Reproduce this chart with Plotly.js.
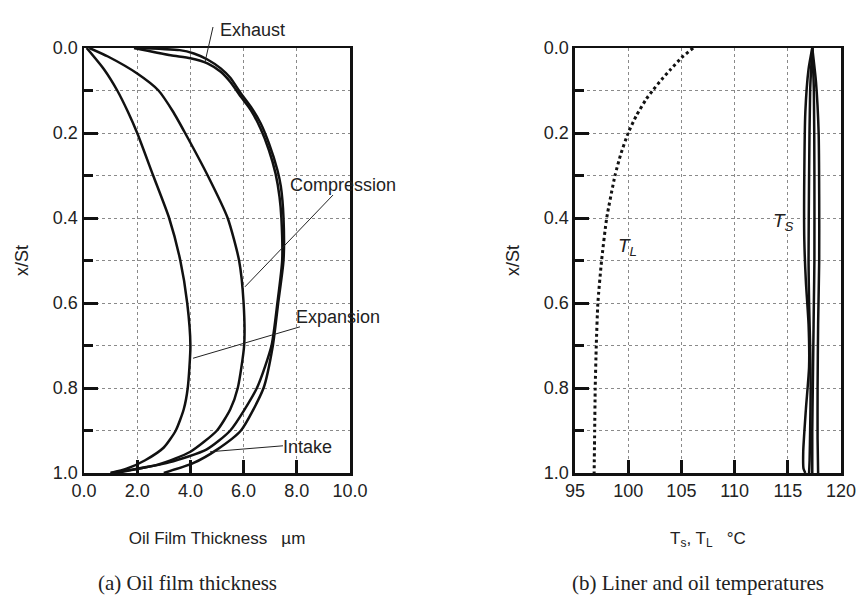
<!DOCTYPE html>
<html>
<head>
<meta charset="utf-8">
<script src="https://cdn.plot.ly/plotly-3.0.1.min.js"></script>
<style>html,body{margin:0;padding:0;background:#fff;}#chart{width:859px;height:598px;}</style>
</head>
<body>
<div id="chart"></div>
<script>
// ---- Data ----
// (a) Oil film thickness (µm) vs x/St
const expansionY = [0, 0.05, 0.1, 0.15, 0.2, 0.3, 0.4, 0.5, 0.6, 0.7, 0.8, 0.85, 0.9, 0.94, 0.97, 0.99, 1.0];
const expansionX = [0.1, 0.75, 1.25, 1.65, 2.0, 2.6, 3.2, 3.62, 3.88, 4.0, 3.9, 3.75, 3.45, 3.0, 2.3, 1.6, 1.0];

const compressionY = [0, 0.02, 0.06, 0.1, 0.15, 0.2, 0.3, 0.4, 0.5, 0.6, 0.7, 0.8, 0.85, 0.9, 0.95, 0.98, 1.0];
const compressionX = [0.2, 0.9, 2.0, 2.8, 3.35, 3.8, 4.65, 5.4, 5.83, 6.0, 6.02, 5.78, 5.5, 5.0, 4.0, 2.8, 1.0];

const exhaustY = [0, 0.017, 0.024, 0.036, 0.056, 0.08, 0.115, 0.146, 0.19, 0.24, 0.295, 0.35, 0.4, 0.5, 0.6, 0.7, 0.8, 0.9, 0.945, 0.975, 1.0];
const exhaustX = [1.88, 3.26, 4.0, 4.64, 5.14, 5.5, 5.9, 6.27, 6.64, 6.95, 7.2, 7.35, 7.42, 7.45, 7.27, 7.05, 6.5, 5.5, 4.6, 3.2, 1.2];

const intakeY = [0, 0.005, 0.013, 0.027, 0.048, 0.07, 0.107, 0.138, 0.177, 0.224, 0.287, 0.326, 0.4, 0.5, 0.6, 0.7, 0.8, 0.9, 0.945, 0.977, 1.0];
const intakeX = [1.9, 3.6, 4.13, 4.64, 5.14, 5.5, 5.9, 6.27, 6.64, 6.95, 7.27, 7.4, 7.5, 7.5, 7.3, 7.1, 6.75, 5.9, 5.0, 4.1, 3.0];

// (b) Liner temperature T_L and oil temperature T_S (°C) vs x/St
const tlY = [0, 0.023, 0.05, 0.074, 0.1, 0.12, 0.16, 0.2, 0.25, 0.3, 0.4, 0.5, 0.6, 0.7, 0.8, 0.9, 1.0];
const tlX = [106.1, 105.0, 104.0, 103.15, 102.3, 101.7, 100.75, 100.0, 99.3, 98.76, 97.98, 97.5, 97.15, 97.0, 96.9, 96.85, 96.8];

const ts1Y = [0, 0.05, 0.15, 0.3, 0.45, 0.55, 0.65, 0.75, 0.85, 0.95, 0.99, 1.0];
const ts1X = [117.3, 116.95, 116.65, 116.55, 116.55, 116.7, 116.95, 117.0, 116.7, 116.45, 116.48, 116.65];
const ts2Y = [0, 0.1, 0.3, 0.5, 0.6, 0.7, 0.8, 0.9, 0.97, 1.0];
const ts2X = [117.3, 117.1, 117.0, 116.95, 117.0, 117.1, 117.15, 117.1, 117.05, 117.0];
const ts3Y = [0, 0.1, 0.3, 0.5, 0.6, 0.7, 0.8, 0.9, 1.0];
const ts3X = [117.3, 117.45, 117.5, 117.5, 117.45, 117.4, 117.35, 117.3, 117.3];
const ts4Y = [0, 0.08, 0.2, 0.35, 0.5, 0.65, 0.8, 0.92, 1.0];
const ts4X = [117.3, 117.65, 117.9, 117.95, 117.95, 117.85, 117.8, 117.8, 117.85];

const leftTicks = [0, 2, 4, 6, 8, 10];
const rightTicks = [95, 100, 105, 110, 115, 120];

// ---- Traces ----
const solid = {color: '#111', width: 2.5, shape: 'spline', smoothing: 0.6};
function curve(x, y, xa, name, line) {
  return {x: x, y: y, xaxis: xa, yaxis: xa === 'x' ? 'y' : 'y2', mode: 'lines', name: name,
          line: line || solid, hoverinfo: 'skip', showlegend: false};
}
const data = [
  curve(expansionX, expansionY, 'x', 'Expansion'),
  curve(compressionX, compressionY, 'x', 'Compression'),
  curve(exhaustX, exhaustY, 'x', 'Exhaust'),
  curve(intakeX, intakeY, 'x', 'Intake'),
  curve(tlX, tlY, 'x2', 'T_L', {color: '#111', width: 3, dash: 'dot', shape: 'spline', smoothing: 0.5}),
  curve(ts1X, ts1Y, 'x2', 'T_S'),
  curve(ts2X, ts2Y, 'x2', 'T_S'),
  curve(ts3X, ts3Y, 'x2', 'T_S'),
  curve(ts4X, ts4Y, 'x2', 'T_S')
];

// ---- Layout ----
const SANS = 'Liberation Sans, Arial, sans-serif';
const SERIF = 'Liberation Serif, Times New Roman, serif';
const tickFont = {family: SANS, size: 18, color: '#222'};
const labelFont = {family: SANS, size: 18, color: '#222'};
const gridStyle = {showgrid: true, gridcolor: '#8a8a8a', griddash: 'dot', gridwidth: 1};
function yAxis(anchor) {
  return Object.assign({
    range: [1.0, 0.0], anchor: anchor, domain: [0, 1],
    tickmode: 'array', tickvals: [0, 0.2, 0.4, 0.6, 0.8, 1.0], ticktext: ['0.0','0.2','0.4','0.6','0.8','1.0'],
    ticks: 'inside', ticklen: 14, tickwidth: 3, tickcolor: '#111',
    minor: {tickvals: [0.1, 0.3, 0.5, 0.7, 0.9], ticks: 'inside', ticklen: 9, tickwidth: 3, tickcolor: '#111',
            showgrid: true, gridcolor: '#8a8a8a', griddash: 'dot', gridwidth: 1},
    showline: true, linecolor: '#111', linewidth: 2.5, mirror: true,
    zeroline: false, tickfont: tickFont,
    title: {text: 'x/St', font: {family: SANS, size: 18, color: '#222'}, standoff: 20}
  }, gridStyle);
}
const plotW = 859 - 84 - 18, plotH = 598 - 48 - 125;
const px = v => (v - 84) / plotW;       // pixel x -> paper fraction
const py = v => (473 - v) / plotH;      // pixel y -> paper fraction
const layout = {
  width: 859, height: 598,
  margin: {l: 84, r: 18, t: 48, b: 125},
  paper_bgcolor: '#fff', plot_bgcolor: '#fff',
  showlegend: false,
  xaxis: Object.assign({
    domain: [0, 0.3514], anchor: 'y', range: [0, 10],
    tickmode: 'array', tickvals: leftTicks, ticktext: leftTicks.map(v => v.toFixed(1)),
    ticks: 'inside', ticklen: 13, tickwidth: 3, tickcolor: '#111',
    showline: true, linecolor: '#111', linewidth: 2.5, mirror: true, zeroline: false,
    tickfont: tickFont,
    title: {text: 'Oil Film Thickness&nbsp;&nbsp;&nbsp;µm', font: {family: SANS, size: 17, color: '#222'}, standoff: 32}
  }, gridStyle),
  yaxis: yAxis('x'),
  xaxis2: Object.assign({
    domain: [0.6486, 1], anchor: 'y2', range: [95, 120],
    tickmode: 'array', tickvals: rightTicks, ticktext: rightTicks.map(String),
    ticks: 'inside', ticklen: 13, tickwidth: 3, tickcolor: '#111',
    showline: true, linecolor: '#111', linewidth: 2.5, mirror: true, zeroline: false,
    tickfont: tickFont,
    title: {text: 'T<sub>s</sub>, T<sub>L</sub>&nbsp;&nbsp;&nbsp;°C', font: {family: SANS, size: 17, color: '#222'}, standoff: 32}
  }, gridStyle),
  yaxis2: yAxis('x2'),
  annotations: [
    {xref: 'paper', yref: 'paper', x: px(218), y: py(18), text: 'Exhaust', showarrow: false, font: labelFont},
    {xref: 'x', yref: 'y', x: 9.74, y: 0.322, text: 'Compression', showarrow: false, font: labelFont},
    {xref: 'x', yref: 'y', x: 9.55, y: 0.633, text: 'Expansion', showarrow: false, font: labelFont},
    {xref: 'x', yref: 'y', x: 8.42, y: 0.939, text: 'Intake', showarrow: false, font: labelFont},
    {xref: 'x2', yref: 'y2', x: 99.98, y: 0.468, text: '<i>T<sub>L</sub></i>', showarrow: false, font: {family: SANS, size: 19, color: '#222'}},
    {xref: 'x2', yref: 'y2', x: 114.55, y: 0.409, text: '<i>T<sub>S</sub></i>', showarrow: false, font: {family: SANS, size: 19, color: '#222'}},
    {xref: 'paper', yref: 'paper', x: px(187), y: py(583), xanchor: 'center', yanchor: 'middle',
     text: '(a) Oil film thickness', showarrow: false, font: {family: SERIF, size: 21, color: '#222'}},
    {xref: 'paper', yref: 'paper', x: px(698), y: py(583), xanchor: 'center', yanchor: 'middle',
     text: '(b) Liner and oil temperatures', showarrow: false, font: {family: SERIF, size: 21, color: '#222'}}
  ],
  shapes: [
    {type: 'line', xref: 'paper', yref: 'paper', x0: px(213), y0: py(27), x1: px(205), y1: py(62), line: {color: '#222', width: 1}},
    {type: 'line', xref: 'x', yref: 'y', x0: 9.36, y0: 0.346, x1: 6.05, y1: 0.562, line: {color: '#222', width: 1}},
    {type: 'line', xref: 'x', yref: 'y', x0: 8.12, y0: 0.656, x1: 4.1, y1: 0.73, line: {color: '#222', width: 1}},
    {type: 'line', xref: 'x', yref: 'y', x0: 7.48, y0: 0.936, x1: 4.74, y1: 0.95, line: {color: '#222', width: 1}}
  ]
};

Plotly.newPlot('chart', data, layout, {staticPlot: true, displayModeBar: false});
</script>
</body>
</html>
